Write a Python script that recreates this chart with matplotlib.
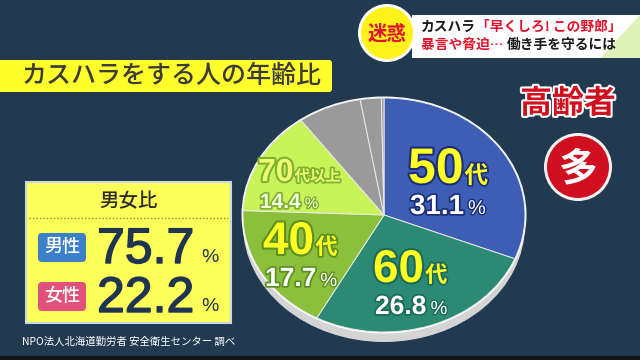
import numpy as np
import matplotlib
matplotlib.use("Agg")
import matplotlib.pyplot as plt
import matplotlib.patheffects as pe
from matplotlib.patches import Ellipse, Circle, FancyBboxPatch, Rectangle, Polygon

plt.rcParams["font.family"] = ["Noto Sans CJK JP", "DejaVu Sans"]
NUM_FONT = ["Liberation Sans", "Noto Sans CJK JP"]

# data
age_labels = ["50代", "60代", "40代", "70代以上", "30代", "20代", "その他"]
age_share = [31.1, 26.8, 17.7, 14.4, 7.3, 2.4, 0.3]
age_colors = ["#3e5eb6", "#2a8a74", "#8cbf3b", "#c8f45a", "#9a9a9a", "#9a9a9a", "#9a9a9a"]
gender_labels = ["男性", "女性"]
gender_share = [75.7, 22.2]
gender_colors = ["#3b80c9", "#e0527c"]

title = "カスハラをする人の年齢比"
source = "NPO法人北海道勤労者 安全衛生センター 調べ"

W, H = 640, 360
BG = "#223a50"
NAVY = "#1f3450"

fig = plt.figure(figsize=(6.4, 3.6), dpi=100)
fig.patch.set_facecolor(BG)
renderer = fig.canvas.get_renderer()

bg = fig.add_axes([0, 0, 1, 1], zorder=0)
bg.set_xlim(0, W)
bg.set_ylim(H, 0)
bg.axis("off")

# bottom black strip
bg.add_patch(Rectangle((0, 356), W, 4, color="#101418"))

# pie geometry (pixels)
cx, cy, rx, ry = 384, 215, 141, 117
# 3d rim below the pie
bg.add_patch(Ellipse((cx, cy + 10), 2 * rx, 2 * ry, facecolor="#d4d4d4", edgecolor="none"))
bg.add_patch(Ellipse((cx, cy), 2 * rx + 3, 2 * ry + 3, facecolor="white", edgecolor="none"))

pax = fig.add_axes([(cx - rx) / W, 1 - (cy + ry) / H, 2 * rx / W, 2 * ry / H], zorder=1)
pax.pie(age_share, colors=age_colors, startangle=90, counterclock=False,
        wedgeprops=dict(edgecolor="#e8e8e8", linewidth=0.7))
pax.set_aspect("auto")
pax.set_xlim(-1, 1)
pax.set_ylim(-1, 1)
pax.axis("off")

ov = fig.add_axes([0, 0, 1, 1], zorder=2)
ov.set_xlim(0, W)
ov.set_ylim(H, 0)
ov.axis("off")
ov.patch.set_alpha(0)


def stroke(c, w=2.5):
    return [pe.withStroke(linewidth=w, foreground=c)]


def chain(x, y, parts, **kw):
    # write text pieces one after another on the same line
    for s, col in parts:
        t = ov.text(x, y, s, color=col, ha="left", va="center", **kw)
        x += t.get_window_extent(renderer).width


# title bar
ov.add_patch(FancyBboxPatch((-5, 60), 337, 32, boxstyle="round,pad=0,rounding_size=3",
                            facecolor="#ffff2c", edgecolor="none"))
ov.text(22, 76, title, fontsize=18, color="#3a3a3a", va="center", ha="left", weight="medium")

# top-right headline banner
ov.add_patch(Rectangle((412, 15), 228, 43, facecolor="white", edgecolor="none"))
ov.add_patch(Polygon([[600, 58], [640, 15], [640, 58]], closed=True, facecolor="#d8f0a8",
                     edgecolor="none", alpha=0.8))
ov.add_patch(Circle((387, 33), 29, facecolor="white", edgecolor="none"))
ov.add_patch(Circle((387, 33), 26, facecolor="#fff21a", edgecolor="none"))
ov.text(387, 34, "迷惑", fontsize=14, color="#e0142c", weight="bold", ha="center", va="center")
chain(421, 27, [("カスハラ", "#1a1a1a"), ("「早くしろ! この野郎」", "#e0142c")],
      fontsize=9.9, weight="bold")
chain(421, 45, [("暴言や脅迫… ", "#e0142c"), ("働き手を守るには", "#1a1a1a")],
      fontsize=9.9, weight="bold")

# elderly callout
ov.text(568, 104, "高齢者", fontsize=23, color="#d0101e", weight="bold", ha="center", va="center",
        path_effects=stroke("white", 3))
ov.add_patch(Circle((578, 167), 34, facecolor="#f2f2f2", edgecolor="none"))
ov.add_patch(Circle((578, 167), 31, facecolor="#d01020", edgecolor="none"))
ov.text(578, 169, "多", fontsize=28, color="white", weight="bold", ha="center", va="center")


def age_label(x, base, num, unit, pct, big, unit_size, pct_base, small, fill, edge,
              pct_fill="white"):
    t = ov.text(x, base, num, fontsize=big, color=fill, weight="bold", ha="left", va="baseline",
                family=NUM_FONT, path_effects=stroke(edge, 3))
    w = t.get_window_extent(renderer).width
    ov.text(x + w + 1, base, unit, fontsize=unit_size, color=fill, weight="bold",
            ha="left", va="baseline", path_effects=stroke(edge, 2.5))
    t2 = ov.text(x + 2, pct_base, pct, fontsize=small, color=pct_fill, weight="bold",
                 ha="left", va="baseline", family=NUM_FONT, path_effects=stroke(edge, 2.5))
    w2 = t2.get_window_extent(renderer).width
    ov.text(x + 2 + w2 + 4, pct_base, "%", fontsize=small * 0.72, color=pct_fill,
            ha="left", va="baseline", family=NUM_FONT, path_effects=stroke(edge, 2))


labels_pos = [
    # x, baseline, big, unit size, pct baseline, small, fill, edge, pct fill
    (408, 183, 36, 17, 214, 20, "#ffff22", "#1c2d78", "white"),
    (373, 282, 33, 16, 314, 19, "#ffff22", "#1d6a58", "white"),
    (263, 254, 33, 16, 286, 19, "#ffff22", "#5c8f22", "white"),
    (258, 181, 23, 11, 208, 15, "#ecff70", "#7fb030", "#f4ffe0"),
]
for lab, val, p in zip(age_labels, age_share, labels_pos):
    x, base, big, us, pbase, small, fill, edge, pfill = p
    age_label(x, base, lab[:2], lab[2:], f"{val:.1f}", big, us, pbase, small, fill, edge, pfill)

# gender box
ov.add_patch(Rectangle((26, 182), 205, 141, facecolor="#ffff5a", edgecolor="#c8d8e0", linewidth=1.5))
ov.plot([29, 228], [218, 218], color="#8a8a40", linestyle=(0, (1, 1.5)), linewidth=1)
ov.text(128, 202, "男女比", fontsize=14, color="#2a2a2a", weight="medium", ha="center", va="center")
for i, (lab, val, col) in enumerate(zip(gender_labels, gender_share, gender_colors)):
    y = 247 + i * 49
    ov.add_patch(FancyBboxPatch((38, y - 14), 48, 29, boxstyle="round,pad=0,rounding_size=4",
                                facecolor=col, edgecolor="none"))
    ov.text(62, y, lab, fontsize=13, color="white", weight="medium", ha="center", va="center")
    ov.text(97, y + 16, f"{val:.1f}", fontsize=36, color=NAVY, ha="left", va="baseline",
            family=NUM_FONT, path_effects=stroke(NAVY, 1))
    ov.text(201, y + 15, "%", fontsize=14, color=NAVY, ha="left", va="baseline", family=NUM_FONT)

ov.text(22, 342, source, fontsize=7.5, color="white", ha="left", va="center")

fig.savefig("out.png", dpi=100, facecolor=BG)
